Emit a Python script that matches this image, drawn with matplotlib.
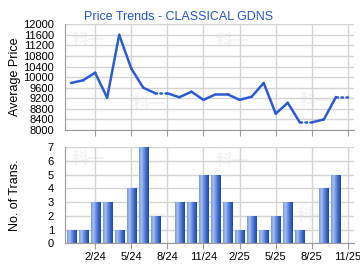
import numpy as np
import matplotlib
matplotlib.use("Agg")
import matplotlib.pyplot as plt
from matplotlib.colors import LinearSegmentedColormap

plt.rcParams['font.family'] = ['Liberation Sans', 'DejaVu Sans']

# monthly data, 12/23 .. 11/25
months = ['12/23', '1/24', '2/24', '3/24', '4/24', '5/24', '6/24', '7/24', '8/24',
          '9/24', '10/24', '11/24', '12/24', '1/25', '2/25', '3/25', '4/25', '5/25',
          '6/25', '7/25', '8/25', '9/25', '10/25', '11/25']
avg_price = [9780, 9880, 10170, 9220, 11600, 10330, 9600, 9390, None,
             9240, 9450, 9140, 9350, 9350, 9140, 9260, 9780, 8620,
             9030, 8290, None, 8400, 9250, None]
trans = [1, 1, 3, 3, 1, 4, 7, 2, 0,
         3, 3, 5, 5, 3, 1, 2, 1, 2,
         3, 1, 0, 4, 5, 0]
tick_labels = ['2/24', '5/24', '8/24', '11/24', '2/25', '5/25', '8/25', '11/25']

x = np.arange(len(months))
tick_pos = [months.index(t) for t in tick_labels]

line_col = '#2a5bd0'
grid_col = '#d4d4d4'
spine_col = '#999999'

fig = plt.figure(figsize=(3.6, 2.7), dpi=100)
ax1 = fig.add_axes([65/360, 1-130/270, 289/360, 105.7/270])
ax2 = fig.add_axes([65/360, 1-243.3/270, 289/360, 96/270])

for ax in (ax1, ax2):
    ax.set_xlim(-0.5, 23.5)
    ax.set_xticks(tick_pos)
    ax.grid(True, color=grid_col, linewidth=1)
    ax.set_axisbelow(True)
    for s in ('top', 'right'):
        ax.spines[s].set_visible(False)
    for s in ('left', 'bottom'):
        ax.spines[s].set_color(spine_col)
    ax.tick_params(axis='x', length=4, color=spine_col, labelsize=8, pad=2)
    ax.tick_params(axis='y', length=0, labelsize=8, pad=8)

# faint watermark
for ax, spots in ((ax1, [(0.08, 0.85), (0.58, 0.84), (0.29, 0.25), (0.87, 0.27)]),
                  (ax2, [(0.08, 0.88), (0.58, 0.86), (0.29, 0.28), (0.86, 0.28)])):
    for px, py in spots:
        ax.text(px, py, '科一', transform=ax.transAxes, fontsize=12, color='#f3f3f3',
                family=['Noto Sans CJK SC'], fontweight='bold', ha='center', va='center', zorder=0)

# price line: carry last value through months without trades (dotted)
filled = []
last = None
for v in avg_price:
    if v is not None:
        last = v
    filled.append(last)
for i in range(1, len(x)):
    if avg_price[i] is None:
        ax1.plot([x[i-1], x[i]], [filled[i-1], filled[i]], color=line_col, lw=1.8,
                 linestyle=(0, (0.6, 1.4)), dash_capstyle='round', zorder=3)
    else:
        ax1.plot([x[i-1], x[i]], [filled[i-1], filled[i]], color=line_col, lw=1.8,
                 solid_capstyle='round', zorder=3)

ax1.set_ylim(8000, 12000)
ax1.set_yticks(np.arange(8000, 12001, 400))
ax1.set_xticklabels([])
ax1.set_ylabel('Average Price', fontsize=9)
ax1.yaxis.set_label_coords(-44/289, 0.5)
ax1.set_title('Price Trends - CLASSICAL GDNS', color='#2255cc', fontsize=9, pad=3,
              x=(179-65)/289)

# bars with left-light / right-dark gradient
cmap = LinearSegmentedColormap.from_list('bar', ['#7a9ae0', '#a6c0f0', '#6a8ede', '#3c66c8', '#1e48b0'])
grad = np.linspace(0, 1, 32).reshape(1, -1)
bars = ax2.bar(x, trans, width=0.75, color='#4a72cc', zorder=2)
for b in bars:
    h = b.get_height()
    if h <= 0:
        continue
    bx, bw = b.get_x(), b.get_width()
    im = ax2.imshow(grad, cmap=cmap, aspect='auto', extent=[bx, bx + bw, 0, h], zorder=2.5)
    im.set_clip_path(b)

ax2.set_xlim(-0.5, 23.5)
ax2.set_ylim(0, 7)
ax2.set_yticks(range(0, 8))
ax2.set_xticklabels(tick_labels)
ax2.set_ylabel('No. of Trans.', fontsize=9)
ax2.yaxis.set_label_coords(-44/289, 0.5)

fig.savefig('out.png', dpi=100)
